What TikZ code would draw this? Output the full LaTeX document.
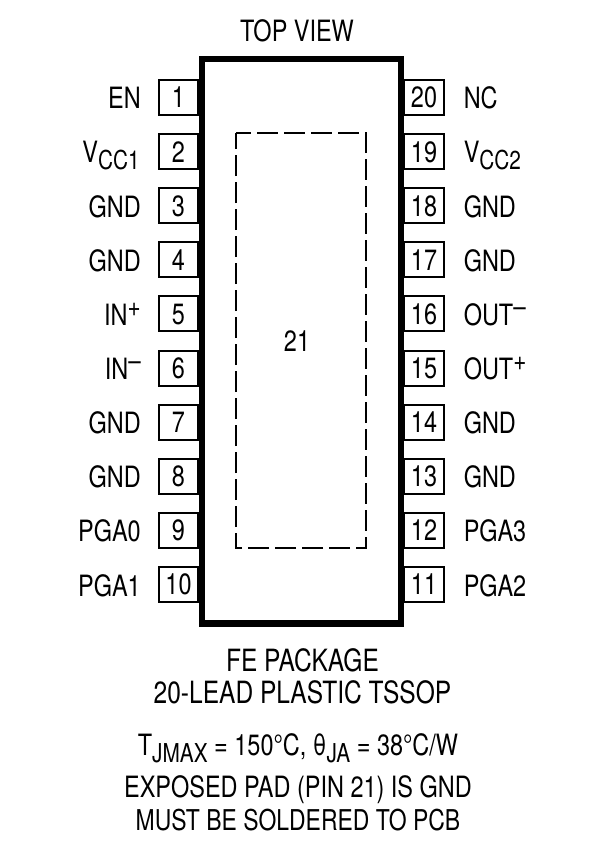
\documentclass[tikz,border=0pt]{standalone}
\usepackage{fontspec}
\setmainfont[FakeStretch=0.8]{TeX Gyre Heros}
\usepackage{tikz}

\newcommand{\lowtxt}[1]{\raisebox{-5.5pt}{\fontsize{19.5}{20}\selectfont #1}}
\newcommand{\hightxt}[1]{\raisebox{6.5pt}{\fontsize{21}{22}\selectfont #1}}

\tikzset{
  pinleft/.style={draw, line width=1.5pt, minimum width=29.25pt, minimum height=26.25pt, inner sep=0pt, text depth=0pt},
  pinright/.style={draw, line width=1.5pt, minimum width=30pt, minimum height=26.25pt, inner sep=0pt, text depth=0pt},
  nameleft/.style={anchor=base east, inner sep=0pt},
  nameright/.style={anchor=base west, inner sep=0pt},
  note/.style={anchor=base, inner sep=0pt}
}

\begin{document}
\begin{tikzpicture}[x=0.75pt, y=-0.75pt, font=\fontsize{22}{24}\selectfont]
  \useasboundingbox (0,0) rectangle (602,847);

  \node[note] at (297,41) (top) { TOP VIEW };

  \node[pinleft] at (178.5,97.5) (p1) { 1 };
  \node[pinleft] at (178.5,151.6) (p2) { 2 };
  \node[pinleft] at (178.5,205.7) (p3) { 3 };
  \node[pinleft] at (178.5,259.8) (p4) { 4 };
  \node[pinleft] at (178.5,313.9) (p5) { 5 };
  \node[pinleft] at (178.5,368) (p6) { 6 };
  \node[pinleft] at (178.5,422.1) (p7) { 7 };
  \node[pinleft] at (178.5,476.2) (p8) { 8 };
  \node[pinleft] at (178.5,530.3) (p9) { 9 };
  \node[pinleft] at (178.5,584.4) (p10) { 10 };

  \node[pinright] at (424,97.5) (p20) { 20 };
  \node[pinright] at (424,151.6) (p19) { 19 };
  \node[pinright] at (424,205.7) (p18) { 18 };
  \node[pinright] at (424,259.8) (p17) { 17 };
  \node[pinright] at (424,313.9) (p16) { 16 };
  \node[pinright] at (424,368) (p15) { 15 };
  \node[pinright] at (424,422.1) (p14) { 14 };
  \node[pinright] at (424,476.2) (p13) { 13 };
  \node[pinright] at (424,530.3) (p12) { 12 };
  \node[pinright] at (424,584.4) (p11) { 11 };

  \node[nameleft] at (141,108) (en) { EN };
  \node[nameleft] at (140,162.5) (vcc1) { V\lowtxt{CC1} };
  \node[nameleft] at (141,217) (gnd3) { GND };
  \node[nameleft] at (141,271) (gnd4) { GND };
  \node[nameleft] at (141,325) (inp) { IN\hightxt{+} };
  \node[nameleft] at (141,379.5) (inn) { IN\hightxt{--} };
  \node[nameleft] at (141,433.5) (gnd7) { GND };
  \node[nameleft] at (141,487.5) (gnd8) { GND };
  \node[nameleft] at (141,541.5) (pga0) { PGA0 };
  \node[nameleft] at (141,596) (pga1) { PGA1 };

  \node[nameright] at (463.5,108) (nc) { NC };
  \node[nameright] at (463.5,162.5) (vcc2) { V\lowtxt{CC2} };
  \node[nameright] at (463.5,217) (gnd18) { GND };
  \node[nameright] at (463.5,271) (gnd17) { GND };
  \node[nameright] at (463.5,325) (outn) { OUT\hightxt{--} };
  \node[nameright] at (463.5,379.5) (outp) { OUT\hightxt{+} };
  \node[nameright] at (463.5,433.5) (gnd14) { GND };
  \node[nameright] at (463.5,487.5) (gnd13) { GND };
  \node[nameright] at (463.5,541.5) (pga3) { PGA3 };
  \node[nameright] at (463.5,596) (pga2) { PGA2 };

  \draw[line width=4.8pt] (202,59) rectangle (401,623.5);
  \draw[line width=1.5pt, dash pattern=on 15.75pt off 4.5pt, dash phase=4.5pt] (236,133) -- (366,133) -- (366,548) -- (236,548) -- cycle;
  \node[note] at (297,351) (pad) { 21 };

  \node[note, font=\fontsize{23}{24}\selectfont] at (302.5,671) (pkg) { FE PACKAGE };
  \node[note, font=\fontsize{23}{24}\selectfont] at (302.5,703) (lead) { 20-LEAD PLASTIC TSSOP };
  \node[note] at (298,755) (temp) { T\lowtxt{JMAX} = 150°C, θ\lowtxt{JA} = 38°C/W };
  \node[note] at (298,797) (gnd) { EXPOSED PAD (PIN 21) IS GND };
  \node[note, font=\fontsize{21.5}{24}\selectfont] at (298,830) (pcb) { MUST BE SOLDERED TO PCB };
\end{tikzpicture}
\end{document}
